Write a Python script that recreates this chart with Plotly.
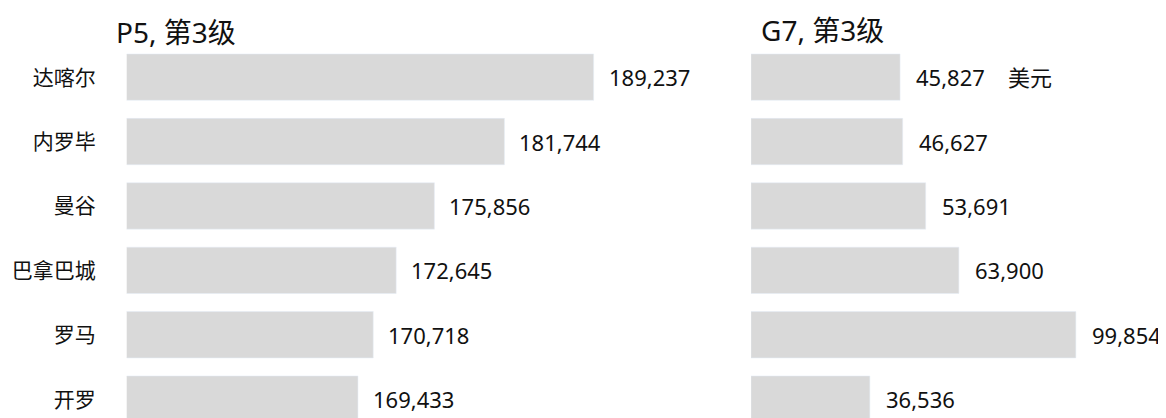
import plotly.graph_objects as go

cities = ["达喀尔", "内罗毕", "曼谷", "巴拿巴城", "罗马", "开罗"]
p5_values = [189237, 181744, 175856, 172645, 170718, 169433]
g7_values = [45827, 46627, 53691, 63900, 99854, 36536]
p5_title = "P5, 第3级"
g7_title = "G7, 第3级"
unit_label = "美元"

# page body has an 8px margin, so the figure is drawn 8px in from the corner
OFF = 8
W, H = 1166 - OFF, 418 - OFF
FONT = "Noto Sans, Noto Sans CJK SC, sans-serif"
BAR = "#d9d9d9"
TXT = "#111111"

fig = go.Figure()
fig.add_trace(go.Bar(y=cities, x=p5_values, orientation="h", marker_color=BAR,
                     xaxis="x", yaxis="y", hoverinfo="skip"))
fig.add_trace(go.Bar(y=cities, x=g7_values, orientation="h", marker_color=BAR,
                     xaxis="x2", yaxis="y2", hoverinfo="skip"))

lx = 126.7 - OFF
l0, l1 = lx / W, 0.6
left_range = [150000, 150000 + (l1 * W - lx) / 0.0119]
rx = 751 - OFF
r0, r1 = rx / W, 1.0
right_range = [0, (r1 * W - rx) / 0.003253]

c0 = 77.15 - OFF
pitch = 64.4
yrange = [(H - c0) / pitch, -c0 / pitch]

vfont = dict(size=22, color=TXT, family=FONT)
annotations = []
for c, v in zip(cities, p5_values):
    annotations.append(dict(x=v, y=c, xref="x", yref="y", text=f"{v:,}", showarrow=False,
                            xanchor="left", xshift=13, font=vfont))
for c, v in zip(cities, g7_values):
    annotations.append(dict(x=v, y=c, xref="x2", yref="y2", text=f"{v:,}", showarrow=False,
                            xanchor="left", xshift=14, font=vfont))
annotations.append(dict(x=g7_values[0], y=cities[0], xref="x2", yref="y2", text=unit_label,
                        showarrow=False, xanchor="left", xshift=106, font=vfont))
annotations.append(dict(x=(117 - OFF - 3) / W, y=1 - (32 - OFF) / H, xref="paper", yref="paper",
                        text=p5_title, showarrow=False, xanchor="left", yanchor="middle",
                        font=dict(size=28, color=TXT, family=FONT)))
annotations.append(dict(x=(762 - OFF - 3) / W, y=1 - (30 - OFF) / H, xref="paper", yref="paper",
                        text=g7_title, showarrow=False, xanchor="left", yanchor="middle",
                        font=dict(size=28, color=TXT, family=FONT)))

fig.update_layout(
    width=W, height=H,
    margin=dict(l=0, r=0, t=0, b=0),
    paper_bgcolor="white", plot_bgcolor="white",
    showlegend=False, bargap=0.28,
    xaxis=dict(domain=[l0, l1], range=left_range, visible=False, fixedrange=True),
    xaxis2=dict(domain=[r0, r1], range=right_range, visible=False, fixedrange=True),
    yaxis=dict(domain=[0, 1], range=yrange, anchor="x", showgrid=False, zeroline=False,
               showline=False, ticks="", ticklabelstandoff=30,
               tickfont=dict(size=21, color=TXT, family=FONT)),
    yaxis2=dict(domain=[0, 1], range=yrange, anchor="x2", showgrid=False, zeroline=False,
                showline=False, showticklabels=False, ticks=""),
    annotations=annotations,
    font=dict(family=FONT, color=TXT),
)

fig.write_html("out.html")
